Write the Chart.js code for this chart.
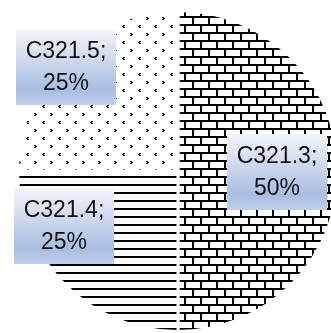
<!DOCTYPE html>
<html>
<head>
<meta charset="utf-8">
<script src="https://cdn.jsdelivr.net/npm/chart.js@4/dist/chart.umd.min.js"></script>
<style>
  html, body { margin: 0; padding: 0; background: #fff; }
  #wrap { width: 331px; height: 333px; overflow: hidden; position: relative; }
  canvas { display: block; }
</style>
</head>
<body>
<div id="wrap"><canvas id="pieChart" width="345" height="340"></canvas></div>
<script>
// Data
const categories = ["C321.3", "C321.4", "C321.5"];
const shares = [50, 25, 25];
const percentLabels = ["50%", "25%", "25%"];

// Label box centers, as fractions of the pie radius from its center
const labelSpots = [
  [0.614, 0.006],
  [-0.713, 0.343],
  [-0.698, -0.648],
];

// Build fill patterns
function makeTile(w, h, draw) {
  const c = document.createElement("canvas");
  c.width = w;
  c.height = h;
  const g = c.getContext("2d");
  g.fillStyle = "#fff";
  g.fillRect(0, 0, w, h);
  g.fillStyle = "#000";
  draw(g);
  return c;
}

const brickTile = makeTile(16, 16, (g) => {
  g.fillRect(0, 0, 16, 2);
  g.fillRect(0, 8, 16, 2);
  g.fillRect(0, 2, 2, 6);
  g.fillRect(8, 10, 2, 6);
});

const lineTile = makeTile(8, 8, (g) => {
  g.fillRect(0, 0, 8, 2);
});

const dotTile = makeTile(16, 16, (g) => {
  // ">" mark
  g.fillRect(2, 1, 2, 1);
  g.fillRect(3, 2, 2, 1);
  g.fillRect(2, 3, 2, 1);
  // "<" mark
  g.fillRect(11, 9, 2, 1);
  g.fillRect(10, 10, 2, 1);
  g.fillRect(11, 11, 2, 1);
});

const ctx = document.getElementById("pieChart").getContext("2d");
const patterns = [
  ctx.createPattern(brickTile, "repeat"),
  ctx.createPattern(lineTile, "repeat"),
  ctx.createPattern(dotTile, "repeat"),
];

// Draw label boxes with gradient background
const labelBoxes = {
  id: "labelBoxes",
  afterDatasetsDraw(chart) {
    const c = chart.ctx;
    const arcs = chart.getDatasetMeta(0).data;
    const boxW = 100, boxH = 76;
    arcs.forEach((arc, i) => {
      const r = arc.outerRadius;
      const cx = arc.x + labelSpots[i][0] * r;
      const cy = arc.y + labelSpots[i][1] * r;
      const x0 = Math.round(cx - boxW / 2);
      const y0 = Math.round(cy - boxH / 2);
      const grad = c.createLinearGradient(0, y0, 0, y0 + boxH);
      grad.addColorStop(0, "#f3f5fa");
      grad.addColorStop(0.8, "#a9bde2");
      grad.addColorStop(1, "#c2cfea");
      c.save();
      c.fillStyle = grad;
      c.fillRect(x0, y0, boxW, boxH);
      c.fillStyle = "#111";
      c.font = "23px 'Liberation Sans', Arial, sans-serif";
      c.textAlign = "center";
      c.textBaseline = "middle";
      c.fillText(categories[i] + ";", x0 + boxW / 2, y0 + boxH / 2 - 15);
      c.fillText(percentLabels[i], x0 + boxW / 2, y0 + boxH / 2 + 17);
      c.restore();
    });
  },
};

new Chart(ctx, {
  type: "pie",
  data: {
    labels: categories,
    datasets: [
      {
        data: shares,
        backgroundColor: patterns,
        borderColor: "#fff",
        borderWidth: 3,
      },
    ],
  },
  options: {
    responsive: false,
    animation: false,
    layout: {
      padding: { left: 16, top: 9, right: 5, bottom: 7 },
    },
    plugins: {
      legend: { display: false },
      tooltip: { enabled: false },
    },
  },
  plugins: [labelBoxes],
});
</script>
</body>
</html>
